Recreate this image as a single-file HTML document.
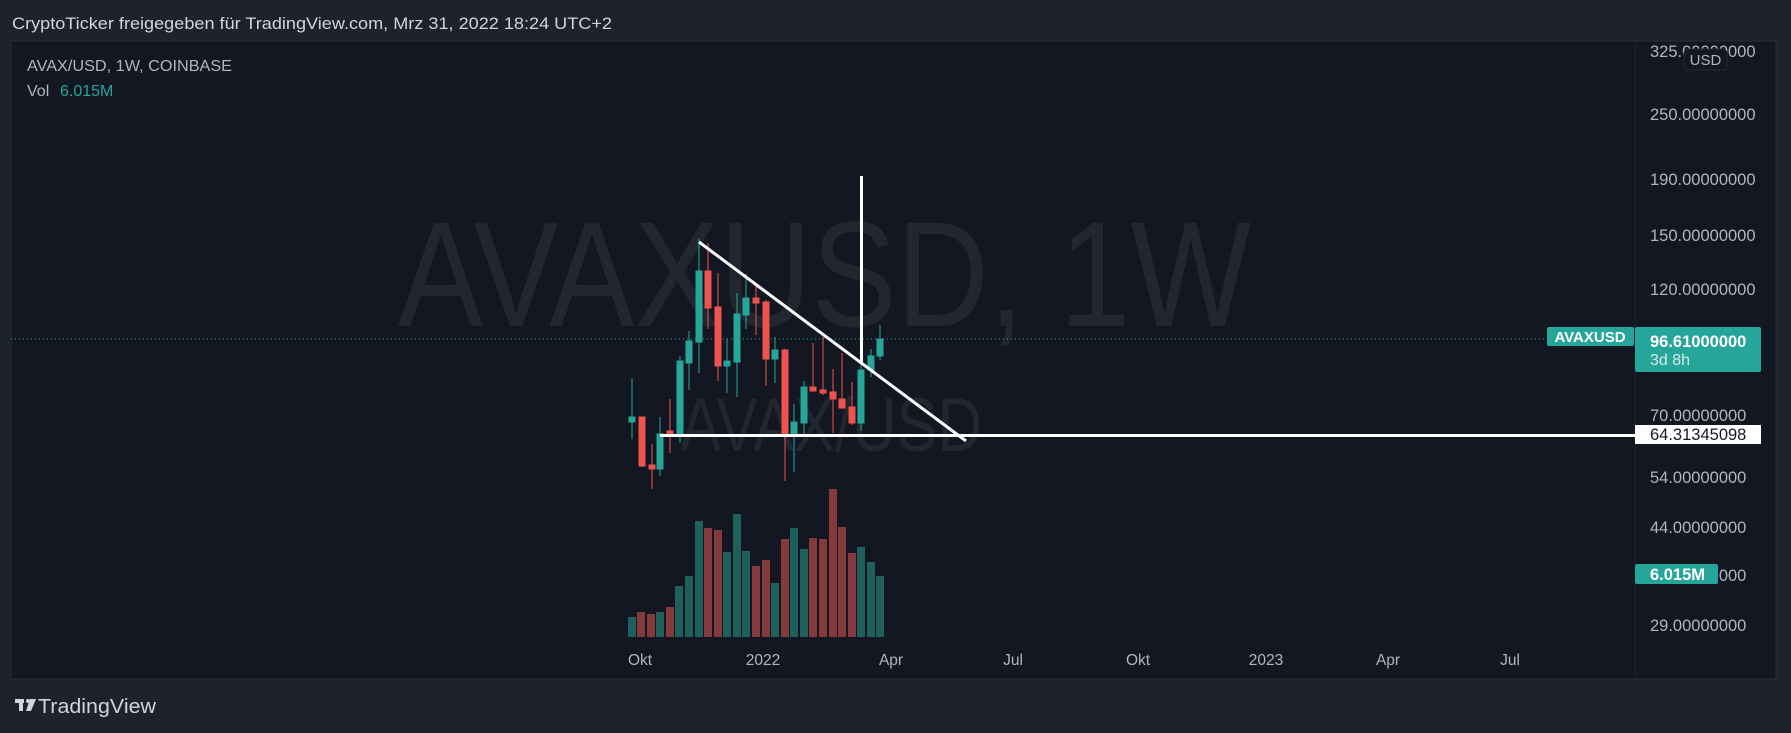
<!DOCTYPE html>
<html><head><meta charset="utf-8"><style>
html,body{margin:0;padding:0;background:#1e222d;width:1791px;height:733px;overflow:hidden}
svg{display:block;font-family:"Liberation Sans",sans-serif}
</style></head><body>
<svg width="1791" height="733" viewBox="0 0 1791 733" xmlns="http://www.w3.org/2000/svg">
<rect width="1791" height="733" fill="#1e222d"/>
<text x="12" y="29" font-size="17" fill="#d1d4dc" textLength="600" lengthAdjust="spacingAndGlyphs">CryptoTicker freigegeben für TradingView.com, Mrz 31, 2022 18:24 UTC+2</text>
<rect x="11" y="41" width="1765" height="638" fill="#131722" stroke="#2a2e39" stroke-width="1"/>
<line x1="1635" y1="41" x2="1635" y2="679" stroke="#1e222d"/>
<text x="398" y="326" font-size="150" fill="#22262f" textLength="853" lengthAdjust="spacingAndGlyphs">AVAXUSD, 1W</text>
<text x="680" y="451" font-size="76" fill="#22262f" textLength="302" lengthAdjust="spacingAndGlyphs">AVAX/USD</text>
<text x="27" y="71" font-size="16" fill="#b2b5be" textLength="205" lengthAdjust="spacingAndGlyphs">AVAX/USD, 1W, COINBASE</text>
<text x="27" y="96" font-size="16" fill="#b2b5be">Vol</text>
<text x="60" y="96" font-size="16" fill="#26a69a">6.015M</text>
<line x1="11" y1="339" x2="1547" y2="339" stroke="#26a69a" stroke-width="1" stroke-dasharray="1,3"/>
<g>
<rect x="628" y="617" width="8" height="20" fill="#1f5f5c"/>
<rect x="637" y="612" width="8" height="25" fill="#843a3c"/>
<rect x="647" y="614" width="8" height="23" fill="#843a3c"/>
<rect x="656" y="612" width="8" height="25" fill="#1f5f5c"/>
<rect x="666" y="607" width="8" height="30" fill="#843a3c"/>
<rect x="675" y="586" width="8" height="51" fill="#1f5f5c"/>
<rect x="685" y="576" width="8" height="61" fill="#1f5f5c"/>
<rect x="695" y="521" width="8" height="116" fill="#1f5f5c"/>
<rect x="704" y="528" width="8" height="109" fill="#843a3c"/>
<rect x="714" y="530" width="8" height="107" fill="#843a3c"/>
<rect x="723" y="552" width="8" height="85" fill="#1f5f5c"/>
<rect x="733" y="514" width="8" height="123" fill="#1f5f5c"/>
<rect x="742" y="551" width="8" height="86" fill="#1f5f5c"/>
<rect x="752" y="566" width="8" height="71" fill="#843a3c"/>
<rect x="762" y="560" width="8" height="77" fill="#843a3c"/>
<rect x="771" y="583" width="8" height="54" fill="#1f5f5c"/>
<rect x="781" y="539" width="8" height="98" fill="#843a3c"/>
<rect x="790" y="528" width="8" height="109" fill="#1f5f5c"/>
<rect x="800" y="549" width="8" height="88" fill="#1f5f5c"/>
<rect x="809" y="538" width="8" height="99" fill="#843a3c"/>
<rect x="819" y="539" width="8" height="98" fill="#843a3c"/>
<rect x="829" y="489" width="8" height="148" fill="#843a3c"/>
<rect x="838" y="527" width="8" height="110" fill="#843a3c"/>
<rect x="848" y="553" width="8" height="84" fill="#843a3c"/>
<rect x="857" y="547" width="8" height="90" fill="#1f5f5c"/>
<rect x="867" y="562" width="8" height="75" fill="#1f5f5c"/>
<rect x="876" y="576" width="8" height="61" fill="#1f5f5c"/>
</g>
<g stroke-width="1">
<g fill="#26a69a" stroke="#26a69a"><line x1="632" y1="378" x2="632" y2="439"/><rect x="629" y="417" width="6" height="5"/></g>
<g fill="#ef5350" stroke="#ef5350"><line x1="642" y1="417" x2="642" y2="467"/><rect x="639" y="417" width="6" height="49"/></g>
<g fill="#ef5350" stroke="#ef5350"><line x1="652" y1="444" x2="652" y2="489"/><rect x="649" y="465" width="6" height="4"/></g>
<g fill="#26a69a" stroke="#26a69a"><line x1="660" y1="417" x2="660" y2="476"/><rect x="657" y="434" width="6" height="35"/></g>
<g fill="#ef5350" stroke="#ef5350"><line x1="670" y1="399" x2="670" y2="453"/><rect x="667" y="431" width="6" height="4"/></g>
<g fill="#26a69a" stroke="#26a69a"><line x1="680" y1="356" x2="680" y2="443"/><rect x="677" y="361" width="6" height="73"/></g>
<g fill="#26a69a" stroke="#26a69a"><line x1="689" y1="331" x2="689" y2="390"/><rect x="686" y="341" width="6" height="22"/></g>
<g fill="#26a69a" stroke="#26a69a"><line x1="699" y1="239" x2="699" y2="373"/><rect x="696" y="271" width="6" height="71"/></g>
<g fill="#ef5350" stroke="#ef5350"><line x1="708" y1="243" x2="708" y2="329"/><rect x="705" y="271" width="6" height="37"/></g>
<g fill="#ef5350" stroke="#ef5350"><line x1="718" y1="273" x2="718" y2="381"/><rect x="715" y="307" width="6" height="59"/></g>
<g fill="#26a69a" stroke="#26a69a"><line x1="727" y1="339" x2="727" y2="393"/><rect x="724" y="361" width="6" height="5"/></g>
<g fill="#26a69a" stroke="#26a69a"><line x1="737" y1="293" x2="737" y2="397"/><rect x="734" y="314" width="6" height="48"/></g>
<g fill="#26a69a" stroke="#26a69a"><line x1="746" y1="274" x2="746" y2="329"/><rect x="743" y="298" width="6" height="17"/></g>
<g fill="#ef5350" stroke="#ef5350"><line x1="756" y1="285" x2="756" y2="335"/><rect x="753" y="298" width="6" height="5"/></g>
<g fill="#ef5350" stroke="#ef5350"><line x1="766" y1="300" x2="766" y2="386"/><rect x="763" y="302" width="6" height="57"/></g>
<g fill="#26a69a" stroke="#26a69a"><line x1="775" y1="337" x2="775" y2="383"/><rect x="772" y="350" width="6" height="9"/></g>
<g fill="#ef5350" stroke="#ef5350"><line x1="785" y1="349" x2="785" y2="481"/><rect x="782" y="350" width="6" height="85"/></g>
<g fill="#26a69a" stroke="#26a69a"><line x1="794" y1="404" x2="794" y2="472"/><rect x="791" y="422" width="6" height="13"/></g>
<g fill="#26a69a" stroke="#26a69a"><line x1="804" y1="381" x2="804" y2="435"/><rect x="801" y="387" width="6" height="36"/></g>
<g fill="#ef5350" stroke="#ef5350"><line x1="813" y1="343" x2="813" y2="391"/><rect x="810" y="387" width="6" height="4"/></g>
<g fill="#ef5350" stroke="#ef5350"><line x1="823" y1="337" x2="823" y2="395"/><rect x="820" y="390" width="6" height="3"/></g>
<g fill="#ef5350" stroke="#ef5350"><line x1="833" y1="369" x2="833" y2="433"/><rect x="830" y="392" width="6" height="7"/></g>
<g fill="#ef5350" stroke="#ef5350"><line x1="842" y1="353" x2="842" y2="409"/><rect x="839" y="399" width="6" height="9"/></g>
<g fill="#ef5350" stroke="#ef5350"><line x1="852" y1="382" x2="852" y2="425"/><rect x="849" y="407" width="6" height="16"/></g>
<g fill="#26a69a" stroke="#26a69a"><line x1="861" y1="363" x2="861" y2="431"/><rect x="858" y="370" width="6" height="53"/></g>
<g fill="#26a69a" stroke="#26a69a"><line x1="871" y1="349" x2="871" y2="377"/><rect x="868" y="356" width="6" height="14"/></g>
<g fill="#26a69a" stroke="#26a69a"><line x1="880" y1="325" x2="880" y2="360"/><rect x="877" y="339" width="6" height="17"/></g>
</g>
<line x1="699" y1="242" x2="966" y2="441" stroke="#fff" stroke-width="3"/>
<line x1="660" y1="435.5" x2="1635" y2="435.5" stroke="#fff" stroke-width="3"/>
<line x1="861.5" y1="176" x2="861.5" y2="364" stroke="#fff" stroke-width="3"/>
<g font-size="16.5" fill="#b2b5be">
<text x="1650" y="57">325.00000000</text>
<text x="1650" y="120">250.00000000</text>
<text x="1650" y="185">190.00000000</text>
<text x="1650" y="241">150.00000000</text>
<text x="1650" y="295">120.00000000</text>
<text x="1650" y="421">70.00000000</text>
<text x="1650" y="483">54.00000000</text>
<text x="1650" y="533">44.00000000</text>
<text x="1650" y="581">33.00000000</text>
<text x="1650" y="631">29.00000000</text>
</g>
<rect x="1684" y="49" width="43" height="21" rx="4" fill="#131722" stroke="#2a2e39"/>
<text x="1705.5" y="65" font-size="15" fill="#b2b5be" text-anchor="middle">USD</text>
<rect x="1547" y="327" width="87" height="19" rx="2" fill="#26a69a"/>
<text x="1590" y="342" font-size="15" font-weight="bold" fill="#fff" text-anchor="middle">AVAXUSD</text>
<rect x="1635" y="327" width="126" height="45" rx="2" fill="#26a69a"/>
<text x="1650" y="347" font-size="16.5" font-weight="bold" fill="#fff">96.61000000</text>
<text x="1650" y="365" font-size="16" fill="#d1ece9">3d 8h</text>
<rect x="1635" y="425" width="126" height="19" fill="#fff"/>
<text x="1650" y="440" font-size="16.5" fill="#131722">64.31345098</text>
<rect x="1635" y="564" width="83" height="20" rx="2" fill="#26a69a"/>
<text x="1650" y="580" font-size="16.5" font-weight="bold" fill="#fff">6.015M</text>
<g font-size="15.5" fill="#b2b5be" text-anchor="middle">
<text x="640" y="665">Okt</text>
<text x="763" y="665">2022</text>
<text x="891" y="665">Apr</text>
<text x="1013" y="665">Jul</text>
<text x="1138" y="665">Okt</text>
<text x="1266" y="665">2023</text>
<text x="1388" y="665">Apr</text>
<text x="1510" y="665">Jul</text>
</g>
<g fill="#d1d4dc">
<rect x="15" y="699" width="9" height="4"/><rect x="19" y="699" width="4" height="12"/>
<circle cx="28" cy="701" r="2"/>
<polygon points="30,699 36,699 31,711 26,711"/>
</g>
<text x="38" y="713" font-size="20" fill="#d1d4dc" textLength="118" lengthAdjust="spacingAndGlyphs">TradingView</text>
</svg>
</body></html>
